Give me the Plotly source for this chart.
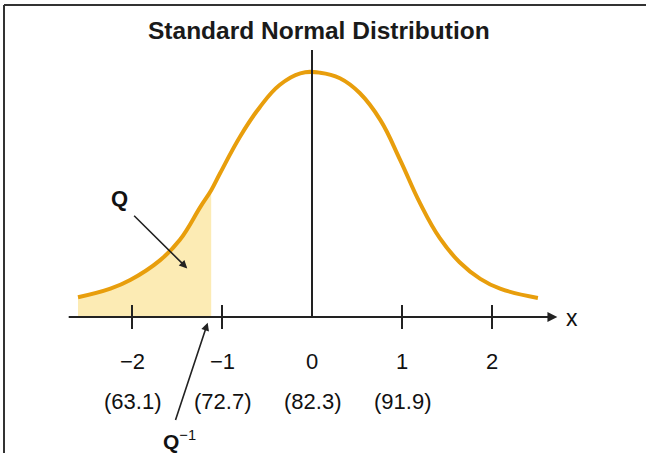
import plotly.graph_objects as go

# Curve (z, height in density units)
curve_z = [-2.60, -2.24, -2.02, -1.69, -1.47, -1.24, -1.12, -1.02, -0.80, -0.58, -0.36, -0.13,
           0.09, 0.31, 0.53, 0.76, 0.98, 1.20, 1.42, 1.64, 1.87, 2.09, 2.51]
curve_y = [0.032, 0.046, 0.060, 0.092, 0.125, 0.179, 0.206, 0.234, 0.293, 0.341, 0.377, 0.396,
           0.397, 0.388, 0.364, 0.320, 0.255, 0.185, 0.128, 0.089, 0.062, 0.046, 0.031]

# Q^-1 cut point (edge of the shaded tail)
q_inv = -1.12

# Axis ticks and labels
tick_z = [-2, -1, 1, 2]
tick_labels = ["−2", "−1", "0", "1", "2"]
tick_label_z = [-2, -1, 0, 1, 2]
score_labels = ["(63.1)", "(72.7)", "(82.3)", "(91.9)"]
score_z = [-2, -1, 0, 1]

FONT = "Liberation Sans, Arial, sans-serif"
ORANGE = "#E89E0C"
SHADE = "#FCEBB4"

fig = go.Figure()

# shaded tail Q
tail_z = [z for z in curve_z if z <= q_inv]
tail_y = curve_y[:len(tail_z)]
fig.add_trace(go.Scatter(
    x=tail_z, y=tail_y, mode="lines", fill="tozeroy",
    fillcolor=SHADE, line=dict(color="rgba(0,0,0,0)", width=0, shape="spline", smoothing=1.2),
    hoverinfo="skip"
))

# the bell curve
fig.add_trace(go.Scatter(
    x=curve_z, y=curve_y, mode="lines",
    line=dict(color=ORANGE, width=4, shape="spline", smoothing=1.2),
    hoverinfo="skip"
))

# tick marks
tick_len = 0.0195
for z in tick_z:
    fig.add_shape(type="line", x0=z, x1=z, y0=-tick_len, y1=tick_len,
                  line=dict(color="#222222", width=2))

# vertical line at the mean
fig.add_shape(type="line", x0=0, x1=0, y0=0, y1=0.434,
              line=dict(color="#222222", width=2))

# frame (left and top edges only)
fig.add_shape(type="line", xref="paper", yref="paper", x0=4 / 646, x1=4 / 646, y0=0, y1=1 - 5 / 453,
              line=dict(color="#333333", width=2))
fig.add_shape(type="line", xref="paper", yref="paper", x0=4 / 646, x1=1, y0=1 - 5 / 453, y1=1 - 5 / 453,
              line=dict(color="#333333", width=2))

# x axis with arrow
fig.add_annotation(x=2.726, y=0, ax=-2.72, ay=0, axref="x", ayref="y",
                   text="", showarrow=True, arrowhead=2, arrowsize=1.1,
                   arrowwidth=1.8, arrowcolor="#222222", standoff=0)
fig.add_annotation(x=2.889, y=-0.002, text="x", showarrow=False,
                   font=dict(family=FONT, size=23, color="#111111"))

# tick labels
for z, lab in zip(tick_label_z, tick_labels):
    fig.add_annotation(x=z, y=-0.073, text=lab, showarrow=False,
                       font=dict(family=FONT, size=22, color="#111111"))
for z, lab in zip(score_z, score_labels):
    fig.add_annotation(x=z + 0.01, y=-0.138, text=lab, showarrow=False,
                       font=dict(family=FONT, size=22, color="#111111"))

# Q label and arrow
fig.add_annotation(x=-2.14, y=0.192, text="<b>Q</b>", showarrow=False,
                   font=dict(family=FONT, size=22, color="#111111"))
fig.add_annotation(x=-1.386, y=0.079, ax=-1.993, ay=0.167, axref="x", ayref="y",
                   text="", showarrow=True, arrowhead=2, arrowsize=1,
                   arrowwidth=1.6, arrowcolor="#222222", standoff=0)

# Q^-1 label and arrow
fig.add_annotation(x=-1.159, y=-0.0093, ax=-1.522, ay=-0.170, axref="x", ayref="y",
                   text="", showarrow=True, arrowhead=2, arrowsize=1,
                   arrowwidth=1.6, arrowcolor="#222222", standoff=0)
fig.add_annotation(x=-1.47, y=-0.200, text="<b>Q</b><sup>−1</sup>", showarrow=False,
                   font=dict(family=FONT, size=21, color="#111111"))

# title
fig.add_annotation(x=0.08, y=0.465, text="<b>Standard Normal Distribution</b>", showarrow=False,
                   font=dict(family=FONT, size=24.5, color="#1a1a1a"))

fig.update_layout(
    width=646, height=453,
    margin=dict(l=0, r=0, t=0, b=0),
    paper_bgcolor="white", plot_bgcolor="white",
    showlegend=False,
    xaxis=dict(range=[-312 / 90, 334 / 90], visible=False, fixedrange=True),
    yaxis=dict(range=[-136 * 0.001625, 317 * 0.001625], visible=False, fixedrange=True),
)

# drop the default body margin so the figure sits flush in the window
fig.write_html("out.html", config={"displayModeBar": False},
               post_script="document.body.style.margin='0';")
